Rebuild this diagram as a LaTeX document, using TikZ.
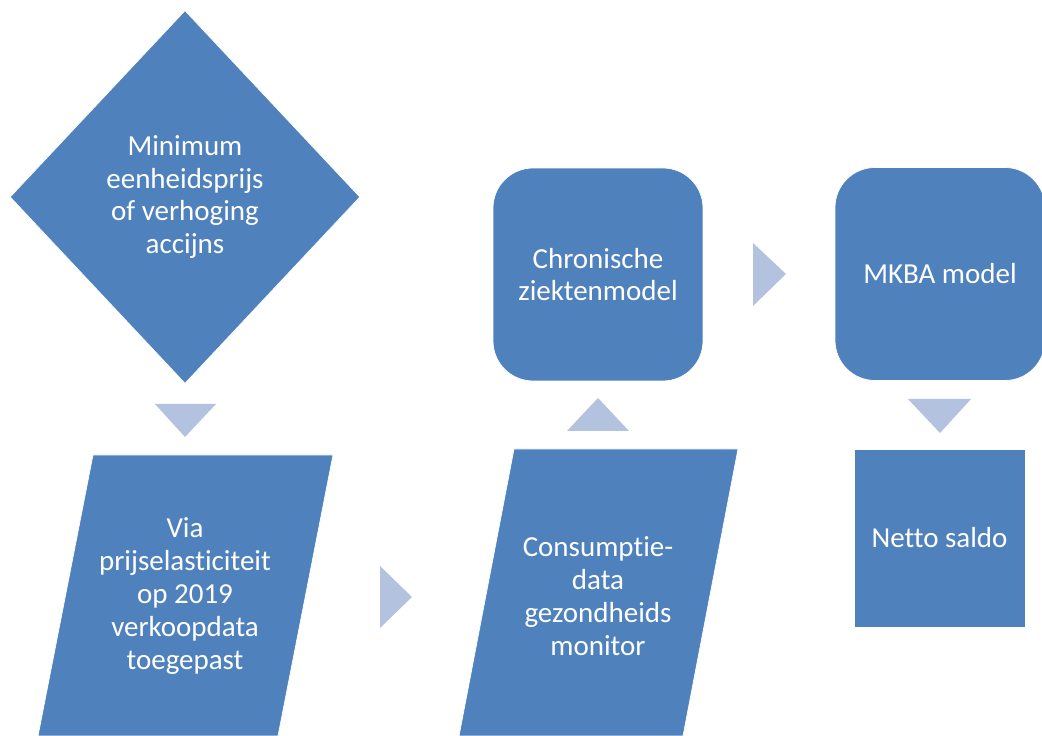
\documentclass[tikz,border=0pt]{standalone}
\usepackage{fontspec}
\setmainfont{Carlito}[Ligatures=NoCommon]
\usetikzlibrary{shapes.geometric}
\definecolor{boxblue}{HTML}{4F81BD}
\definecolor{arrowblue}{HTML}{B3C2DE}

\begin{document}
\begin{tikzpicture}[
            x=0.02cm, y=-0.02cm,
            every node/.style = {text=white, align=center, font=\fontsize{16.5}{18.7}\selectfont},
            stepbox/.style = {fill=boxblue, draw=white, line width=0.4pt},
            roundbox/.style = {stepbox, rounded corners=0.8cm, minimum width=4.2cm, minimum height=4.26cm},
            tri/.style = {fill=arrowblue}
        ]
        \useasboundingbox (0,0) rectangle (1042,736);

        % column 1
        \node[stepbox, diamond, minimum width=7cm, minimum height=7.46cm, inner sep=0pt] (prijs) at (185,197) {Minimum\\eenheidsprijs\\of verhoging\\accijns};
        \fill[stepbox] (93,455) -- (333,455) -- (278,736) -- (38,736) -- cycle;
        \node (elast) at (185,596) {Via\\prijselasticiteit\\op 2019\\verkoopdata\\toegepast};

        % column 2
        \fill[stepbox] (514,449) -- (738,449) -- (683,736) -- (459,736) -- cycle;
        \node (consump) at (598,596) {Consumptie-\\data\\gezondheids\\monitor};
        \node[roundbox] (chron) at (598,274.5) {Chronische\\ziektenmodel};

        % column 3
        \node[roundbox] (mkba) at (940,274) {MKBA model};
        \node[stepbox, minimum width=3.42cm, minimum height=3.56cm] (netto) at (939.5,538) {Netto saldo};

        % arrows
        \fill[tri] (155,404) -- (216,404) -- (185,437) -- cycle;
        \fill[tri] (380,566) -- (412,597) -- (380,628) -- cycle;
        \fill[tri] (567,431) -- (629,431) -- (598,398) -- cycle;
        \fill[tri] (753,243) -- (786,274) -- (753,306) -- cycle;
        \fill[tri] (908,399) -- (971,399) -- (940,433) -- cycle;
    \end{tikzpicture}
\end{document}
